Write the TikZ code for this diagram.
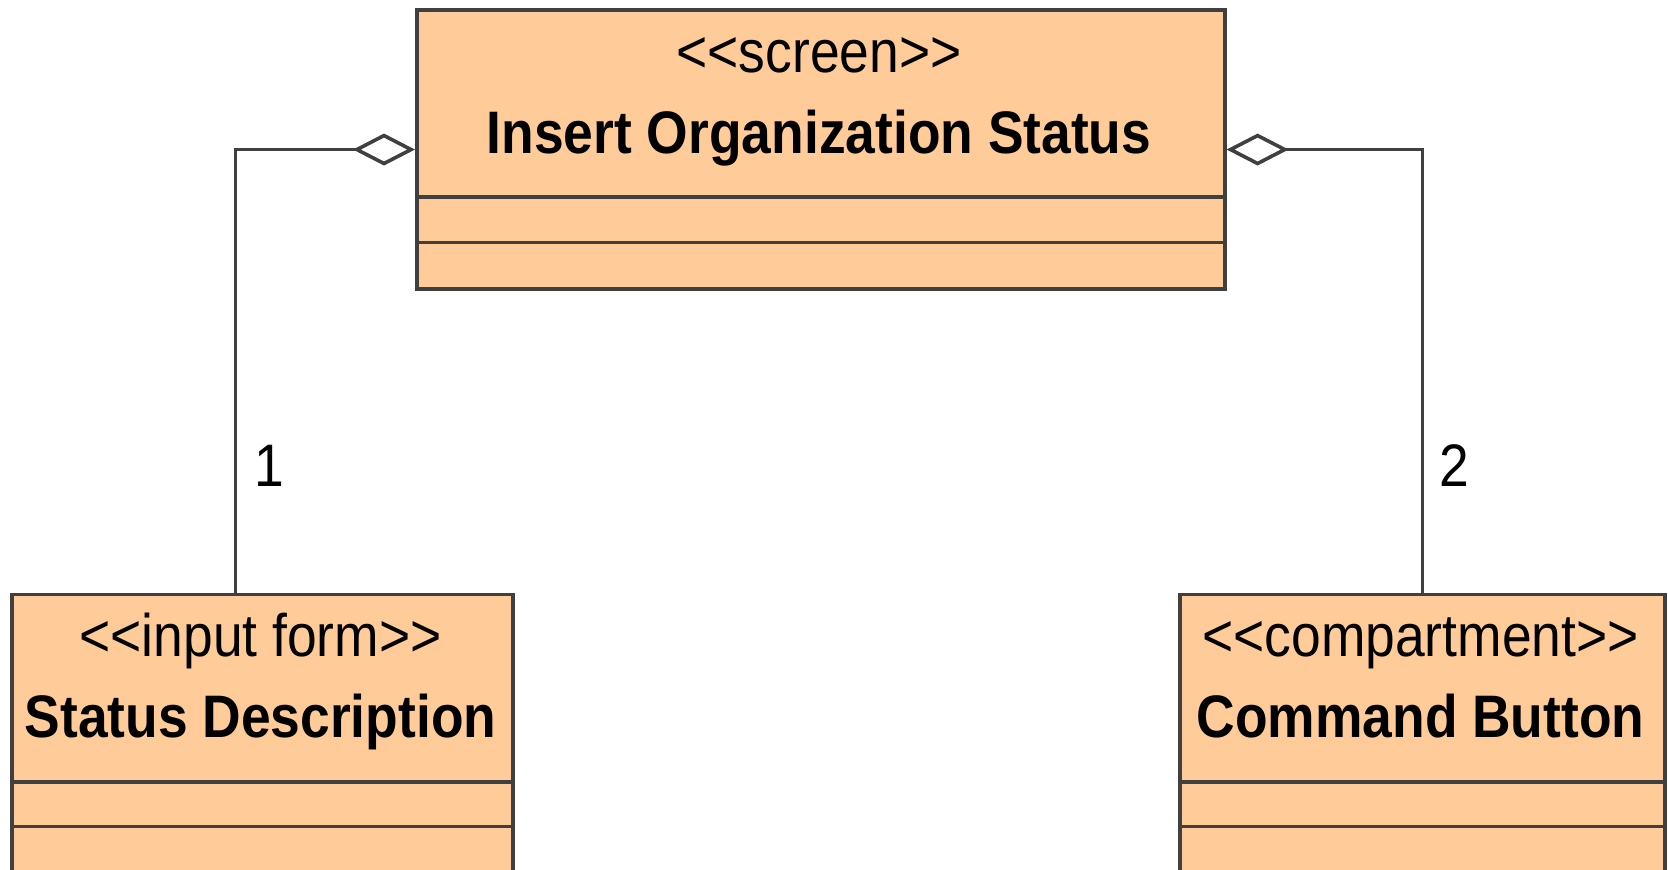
\documentclass[tikz,border=0pt]{standalone}
\usepackage{fontspec}
\setmainfont{Liberation Sans}[FakeStretch=0.89]
\usetikzlibrary{arrows.meta,positioning}

\definecolor{classfill}{HTML}{FFCC99}
\definecolor{classline}{HTML}{404040}
\newcommand{\stype}[1]{<\kern0pt<#1>\kern0pt>}

\begin{document}
\begin{tikzpicture}[x=0.5pt,y=-0.5pt,
  class/.style={draw=classline,fill=classfill,line width=1.8pt,inner sep=0pt,anchor=north west},
  compart/.style={draw=classline,line width=1.8pt},
  stereo/.style={anchor=base,inner sep=0pt,font=\fontsize{30}{36}\selectfont},
  cname/.style={anchor=base,inner sep=0pt,font=\fontsize{30}{36}\selectfont\bfseries},
  mult/.style={anchor=base west,inner sep=0pt,font=\fontsize{30}{36}\selectfont},
  aggr/.style={draw=classline,line width=1.8pt,-{Diamond[open,length=31pt,width=16pt]}}]

  \useasboundingbox (0,0) rectangle (1668,870);

  % classes
  \node[class,minimum width=404pt,minimum height=139.25pt] (InsertStatus) at (415,8.5) {};
  \node[class,minimum width=250.5pt,minimum height=160pt] (StatusDesc) at (10,592.5) {};
  \node[class,minimum width=242.5pt,minimum height=160pt] (CmdButton) at (1178,592.5) {};

  % compartments
  \draw[compart] (InsertStatus.west |- 0,197) -- (InsertStatus.east |- 0,197);
  \draw[compart] (InsertStatus.west |- 0,242.5) -- (InsertStatus.east |- 0,242.5);
  \draw[compart] (StatusDesc.west |- 0,782) -- (StatusDesc.east |- 0,782);
  \draw[compart] (StatusDesc.west |- 0,826.5) -- (StatusDesc.east |- 0,826.5);
  \draw[compart] (CmdButton.west |- 0,782) -- (CmdButton.east |- 0,782);
  \draw[compart] (CmdButton.west |- 0,826.5) -- (CmdButton.east |- 0,826.5);

  % names
  \node[stereo] (InsertStereo) at (819,72.5) {\stype{screen}};
  \node[cname]  (InsertName)   at (819,153.5) {Insert Organization Status};
  \node[stereo] (DescStereo)   at (260.5,656.5) {\stype{input form}};
  \node[cname]  (DescName)     at (260.5,737.5) {Status Description};
  \node[stereo] (ButtonStereo) at (1420.5,656.5) {\stype{compartment}};
  \node[cname]  (ButtonName)   at (1420.5,737.5) {Command Button};

  % aggregations
  \draw[aggr] ([xshift=-13.5pt]StatusDesc.north) |- (InsertStatus.west);
  \draw[aggr] (CmdButton.north) |- (InsertStatus.east);
  \node[mult] (MultDesc)   at (254,487) {1};
  \node[mult] (MultButton) at (1439.5,487) {2};

\end{tikzpicture}
\end{document}
